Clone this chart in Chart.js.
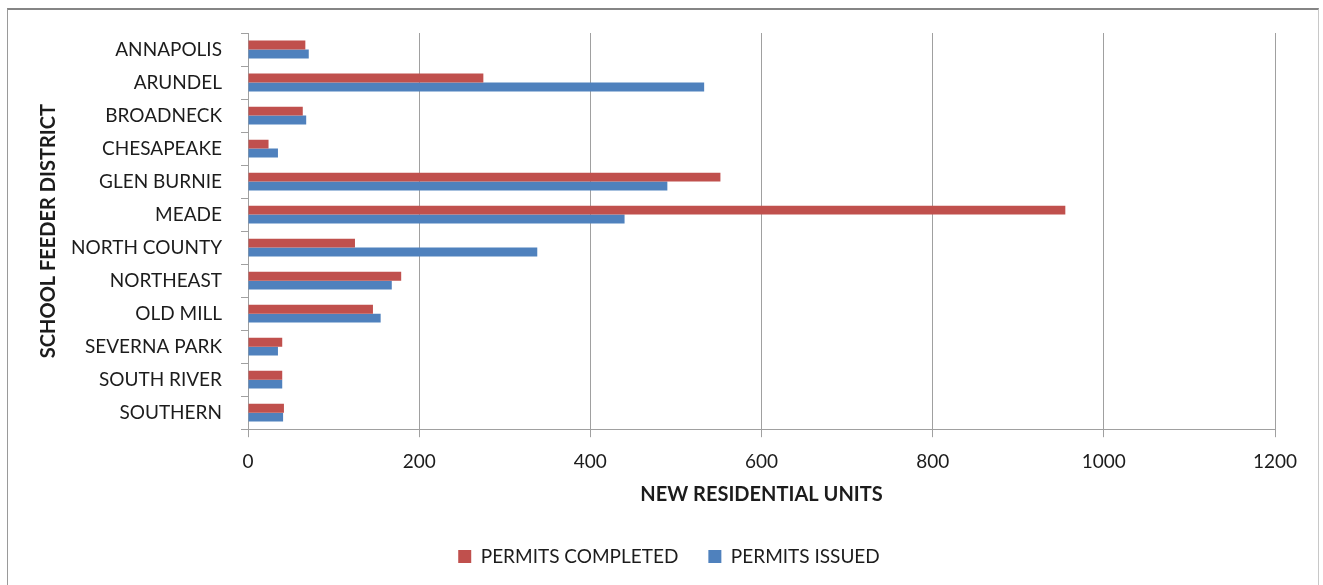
<!DOCTYPE html>
<html>
<head>
<meta charset="utf-8">
<script src="https://cdn.jsdelivr.net/npm/chart.js@4/dist/chart.umd.min.js"></script>
<style>
  html, body { margin: 0; padding: 0; background: #ffffff; }
  #wrap { position: absolute; left: 0; top: 0; width: 1323px; height: 585px; }
  #frame { position: absolute; left: 7px; top: 8px; width: 1312px; height: 590px;
           border-top: 2px solid #858585; border-left: 1px solid #9a9a9a; border-right: 1px solid #c8c8c8;
           pointer-events: none; box-sizing: border-box; }
</style>
</head>
<body>
<div id="wrap"><canvas id="c" width="1323" height="585"></canvas></div>
<div id="frame"></div>
<script>
const categories = ["ANNAPOLIS", "ARUNDEL", "BROADNECK", "CHESAPEAKE", "GLEN BURNIE", "MEADE",
  "NORTH COUNTY", "NORTHEAST", "OLD MILL", "SEVERNA PARK", "SOUTH RIVER", "SOUTHERN"];
const permitsCompleted = [67, 275, 64, 24, 552, 955, 125, 179, 146, 40, 40, 42];
const permitsIssued = [71, 533, 68, 35, 490, 440, 338, 168, 155, 35, 40, 41];
const seriesNames = ["PERMITS COMPLETED", "PERMITS ISSUED"];
const xTickValues = [0, 200, 400, 600, 800, 1000, 1200];
const xTitle = "NEW RESIDENTIAL UNITS";
const yTitle = "SCHOOL FEEDER DISTRICT";

const FONT = "Lato, 'Open Sans', sans-serif";
const TEXT = "#1c1c1c";
const GRID = "#a0a0a0";
const PAD_LEFT = 63;

new Chart(document.getElementById('c'), {
  type: 'bar',
  data: {
    labels: categories,
    datasets: [
      { label: seriesNames[0], data: permitsCompleted, backgroundColor: '#C0504D', borderWidth: 0 },
      { label: seriesNames[1], data: permitsIssued, backgroundColor: '#4F81BD', borderWidth: 0 }
    ]
  },
  options: {
    indexAxis: 'y',
    responsive: false,
    animation: false,
    devicePixelRatio: 1,
    categoryPercentage: 0.54,
    barPercentage: 1.0,
    layout: { padding: { left: PAD_LEFT, right: 48, top: 33, bottom: 9 } },
    plugins: {
      tooltip: { enabled: false },
      legend: {
        position: 'bottom',
        labels: {
          boxWidth: 13, boxHeight: 13, padding: 30,
          color: TEXT, font: { family: FONT, size: 19 }
        }
      }
    },
    scales: {
      x: {
        min: 0, max: 1200,
        afterBuildTicks: (s) => { s.ticks = xTickValues.map(v => ({ value: v })); },
        border: { display: true, color: GRID, width: 1 },
        grid: { color: GRID, lineWidth: 1, tickLength: 8, drawTicks: true },
        ticks: { color: TEXT, font: { family: FONT, size: 19 }, padding: 13, maxRotation: 0,
                 callback: (v) => String(v) },
        title: { display: true, text: xTitle, color: TEXT,
                 font: { family: FONT, size: 20, weight: 'bold' }, padding: { top: -3, bottom: 10 } }
      },
      y: {
        offset: true,
        afterFit: (s) => { s.width = 248 - PAD_LEFT; },
        border: { display: true, color: GRID, width: 1 },
        grid: { offset: true, drawOnChartArea: false, drawTicks: true, tickLength: 7, color: GRID },
        ticks: { color: TEXT, font: { family: FONT, size: 19 }, padding: 19, autoSkip: false },
        title: { display: true, text: yTitle, color: TEXT,
                 font: { family: FONT, size: 20, weight: 'bold' }, padding: { top: -26, bottom: 0 } }
      }
    }
  }
});
</script>
</body>
</html>
